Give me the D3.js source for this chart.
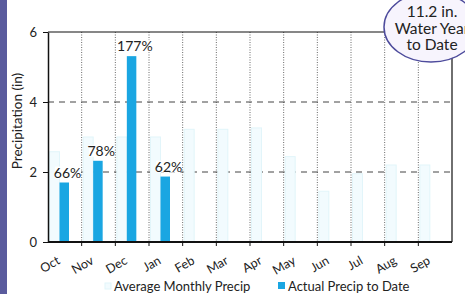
<!DOCTYPE html>
<html>
<head>
<meta charset="utf-8">
<script src="https://cdn.jsdelivr.net/npm/d3@7"></script>
<style>
  html, body { margin: 0; padding: 0; background: #fff; }
  svg { display: block; }
</style>
</head>
<body>
<div id="viz"></div>
<script>
/* global d3 */
const months = ['Oct', 'Nov', 'Dec', 'Jan', 'Feb', 'Mar', 'Apr', 'May', 'Jun', 'Jul', 'Aug', 'Sep'];
const avgPrecip = [2.58, 3.0, 3.0, 3.0, 3.22, 3.22, 3.26, 2.44, 1.45, 1.95, 2.2, 2.2];
const actualPrecip = [1.70, 2.32, 5.31, 1.87];
const pctLabels = ['66%', '78%', '177%', '62%'];
const yTicks = [0, 2, 4, 6];
const calloutLines = ['11.2 in.', 'Water Year', 'to Date'];
const legendNames = ['Average Monthly Precip', 'Actual Precip to Date'];

(function precipChart() {
  const width = 465;
  const height = 294;
  const margin = { top: 32, right: 13, bottom: 52, left: 48 };

  const actualColor = '#1aa6e2';
  const avgFill = '#f2fbfe';
  const avgStroke = '#e2f5fa';
  const gridColor = '#444';
  const blackColor = '#111';
  const font = 'Lato, "Open Sans", sans-serif';

  const svg = d3.select('#viz').append('svg')
    .attr('width', width)
    .attr('height', height)
    .style('font-family', font);

  svg.append('rect')
    .attr('width', width)
    .attr('height', height)
    .attr('fill', '#fff');

  // purple page edge on the left
  svg.append('rect')
    .attr('x', 0)
    .attr('y', 0)
    .attr('width', 7)
    .attr('height', height)
    .attr('fill', '#5a5b9d');

  const x = d3.scaleBand()
    .domain(months)
    .range([margin.left, width - margin.right]);

  const sub = d3.scaleBand()
    .domain(['avg', 'actual'])
    .range([1.5, 21.5]);

  const y = d3.scaleLinear()
    .domain([0, 6])
    .range([height - margin.bottom, margin.top]);

  const x0 = margin.left;
  const x1 = width - margin.right;
  const yBottom = y(0);
  const yTop = y(6);

  // horizontal dashed gridlines
  svg.append('g')
    .selectAll('line')
    .data([2, 4])
    .enter()
    .append('line')
    .attr('x1', x0)
    .attr('x2', x1)
    .attr('y1', d => y(d))
    .attr('y2', d => y(d))
    .attr('stroke', gridColor)
    .attr('stroke-width', 1)
    .attr('stroke-dasharray', '6,5');

  // vertical dotted gridlines at month boundaries
  svg.append('g')
    .selectAll('line')
    .data(months.slice(1))
    .enter()
    .append('line')
    .attr('x1', d => x(d))
    .attr('x2', d => x(d))
    .attr('y1', yTop)
    .attr('y2', yBottom)
    .attr('stroke', gridColor)
    .attr('stroke-width', 0.8)
    .attr('stroke-dasharray', '1,1.5');

  // average bars
  svg.append('g')
    .selectAll('rect')
    .data(avgPrecip)
    .enter()
    .append('rect')
    .attr('x', (d, i) => x(months[i]) + sub('avg'))
    .attr('y', d => y(d))
    .attr('width', sub.bandwidth())
    .attr('height', d => yBottom - y(d))
    .attr('fill', avgFill)
    .attr('stroke', avgStroke)
    .attr('stroke-width', 1);

  // actual bars
  svg.append('g')
    .selectAll('rect')
    .data(actualPrecip)
    .enter()
    .append('rect')
    .attr('x', (d, i) => x(months[i]) + sub('actual'))
    .attr('y', d => y(d))
    .attr('width', sub.bandwidth() - 0.5)
    .attr('height', d => yBottom - y(d))
    .attr('fill', actualColor);

  // percent labels with white backing
  const labels = svg.append('g')
    .selectAll('g')
    .data(actualPrecip)
    .enter()
    .append('g')
    .attr('transform', (d, i) => `translate(${x(months[i]) + sub('actual') + sub.bandwidth() / 2 + 3}, ${y(d) - 5})`);

  labels.append('rect')
    .attr('x', (d, i) => -pctLabels[i].length * 4.1)
    .attr('y', -11)
    .attr('width', (d, i) => pctLabels[i].length * 8.2)
    .attr('height', 12)
    .attr('fill', '#fff');

  labels.append('text')
    .text((d, i) => pctLabels[i])
    .attr('text-anchor', 'middle')
    .style('font-size', '14px')
    .style('fill', '#222');

  // frame
  svg.append('path')
    .attr('d', `M${x0},${yTop}H${x1}V${yBottom}`)
    .attr('fill', 'none')
    .attr('stroke', blackColor)
    .attr('stroke-width', 1.2);

  // y axis
  const yAxis = svg.append('g')
    .attr('transform', `translate(${x0}, 0)`)
    .call(d3.axisLeft(y)
      .tickValues(yTicks)
      .tickFormat(d3.format('d'))
      .tickSize(5)
      .tickSizeOuter(0)
      .tickPadding(6));
  yAxis.select('.domain')
    .attr('stroke', blackColor)
    .attr('stroke-width', 1.5);
  yAxis.selectAll('.tick line').attr('stroke', blackColor);
  yAxis.selectAll('.tick text')
    .style('font-family', font)
    .style('font-size', '13px')
    .style('fill', '#222');

  // x axis line and boundary ticks
  svg.append('line')
    .attr('x1', x0)
    .attr('x2', x1)
    .attr('y1', yBottom)
    .attr('y2', yBottom)
    .attr('stroke', blackColor)
    .attr('stroke-width', 2);

  svg.append('g')
    .selectAll('line')
    .data(months.slice(1))
    .enter()
    .append('line')
    .attr('x1', d => x(d))
    .attr('x2', d => x(d))
    .attr('y1', yBottom)
    .attr('y2', yBottom + 4)
    .attr('stroke', blackColor);

  // month labels
  svg.append('g')
    .selectAll('text')
    .data(months)
    .enter()
    .append('text')
    .text(d => d)
    .attr('transform', d => `translate(${x(d) + x.bandwidth() / 2 - 4}, 263) rotate(-30)`)
    .attr('text-anchor', 'end')
    .style('font-size', '12.5px')
    .style('fill', '#222');

  // y axis title
  svg.append('text')
    .text('Precipitation (in)')
    .attr('transform', 'translate(22, 121) rotate(-90)')
    .attr('text-anchor', 'middle')
    .style('font-size', '13.5px')
    .style('fill', '#222');

  // legend
  svg.append('rect')
    .attr('x', 105)
    .attr('y', 283)
    .attr('width', 6)
    .attr('height', 6)
    .attr('fill', avgFill)
    .attr('stroke', avgStroke);
  svg.append('text')
    .text(legendNames[0])
    .attr('x', 114)
    .attr('y', 291)
    .style('font-size', '13px')
    .style('fill', '#222');

  svg.append('rect')
    .attr('x', 278)
    .attr('y', 282)
    .attr('width', 7)
    .attr('height', 7)
    .attr('fill', actualColor);
  svg.append('text')
    .text(legendNames[1])
    .attr('x', 288)
    .attr('y', 291)
    .style('font-size', '13px')
    .style('fill', '#222');

  // water year callout
  svg.append('ellipse')
    .attr('cx', 431)
    .attr('cy', 27)
    .attr('rx', 47)
    .attr('ry', 35)
    .attr('fill', '#f7f4fd')
    .attr('stroke', '#4d4b9c')
    .attr('stroke-width', 1.5);

  svg.append('g')
    .selectAll('text')
    .data(calloutLines)
    .enter()
    .append('text')
    .text(d => d)
    .attr('x', 432)
    .attr('y', (d, i) => 17 + i * 16.5)
    .attr('text-anchor', 'middle')
    .style('font-size', '15.5px')
    .style('fill', '#222');
}());
</script>
</body>
</html>
